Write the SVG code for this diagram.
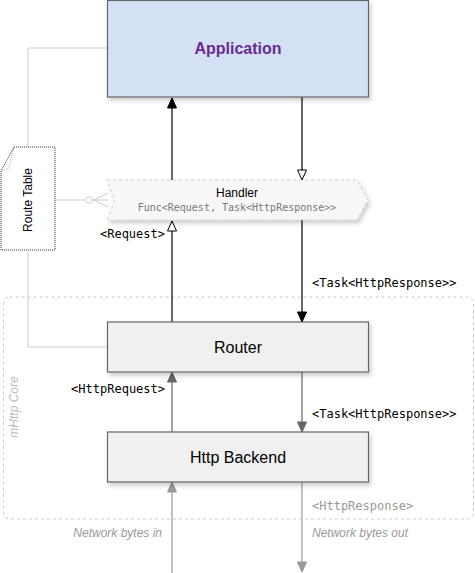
<svg xmlns="http://www.w3.org/2000/svg" width="475" height="573" viewBox="0 0 475 573">
<defs>
<filter id="sh" x="-10%" y="-10%" width="130%" height="140%"><feDropShadow dx="2" dy="3" stdDeviation="2" flood-color="#000" flood-opacity="0.2"/></filter>
<marker id="fillBlack" markerWidth="12" markerHeight="12" viewBox="0 0 12 12" refX="11" refY="6" orient="auto" markerUnits="userSpaceOnUse"><path d="M1,1.5 L11,6 L1,10.5 Z" fill="#000" stroke="#000"/></marker>
<marker id="openBlack" markerWidth="12" markerHeight="12" viewBox="0 0 12 12" refX="11" refY="6" orient="auto" markerUnits="userSpaceOnUse"><path d="M1,1.5 L11,6 L1,10.5 Z" fill="#fff" stroke="#000"/></marker>
<marker id="fillGray" markerWidth="12" markerHeight="12" viewBox="0 0 12 12" refX="11" refY="6" orient="auto" markerUnits="userSpaceOnUse"><path d="M1,1.5 L11,6 L1,10.5 Z" fill="#666" stroke="#666"/></marker>
<marker id="fillLight" markerWidth="12" markerHeight="12" viewBox="0 0 12 12" refX="11" refY="6" orient="auto" markerUnits="userSpaceOnUse"><path d="M1,1.5 L11,6 L1,10.5 Z" fill="#999" stroke="#999"/></marker>
</defs>
<style>
.box{fill:#f0f0f0;stroke:#666;stroke-width:1.2}
.title{font-family:"Liberation Sans",Arial,sans-serif;font-size:16px;fill:#000;text-anchor:middle}
.mono{font-family:"DejaVu Sans Mono",monospace;font-size:12px;fill:#000}
.ital{font-family:"Liberation Sans",Arial,sans-serif;font-size:12px;font-style:italic;fill:#999}
.thin{fill:none;stroke:#ccc;stroke-width:1}
.k{fill:none;stroke:#000;stroke-width:1.2}
.g{fill:none;stroke:#666;stroke-width:1.2}
.l{fill:none;stroke:#999;stroke-width:1.2}
</style>
<rect width="475" height="573" fill="#fff"/>
<g id="mhttp-core">
<rect x="3.5" y="297" width="470" height="222" rx="6" fill="none" stroke="#ccc" stroke-dasharray="3 3"/>
<text transform="translate(18,407) rotate(-90)" text-anchor="middle" class="ital" fill="#bbb" style="fill:#bbb">mHttp Core</text>
</g>
<g id="connectors">
<path class="thin" d="M107.5,48 H28 V147"/>
<path class="thin" d="M28,252 V347 H107.5"/>
<path class="thin" d="M55,200 H85.5"/>
<circle cx="89" cy="200" r="3.5" fill="#fff" stroke="#ccc"/>
<path class="thin" d="M92.5,200 H108 M94,200 L108,193 M94,200 L108,207"/>
<path class="k" d="M172,180 V98" marker-end="url(#fillBlack)"/>
<path class="k" d="M302,97 V180" marker-end="url(#openBlack)"/>
<path class="k" d="M172,322 V221" marker-end="url(#openBlack)"/>
<path class="k" d="M302,220 V322" marker-end="url(#fillBlack)"/>
<path class="g" d="M172,432 V372" marker-end="url(#fillGray)"/>
<path class="g" d="M302,372 V432" marker-end="url(#fillGray)"/>
<path class="l" d="M172,573 V482" marker-end="url(#fillLight)"/>
<path class="l" d="M302,482 V572" marker-end="url(#fillLight)"/>
<text class="mono" x="165" y="238" text-anchor="end">&lt;Request&gt;</text>
<text class="mono" x="312" y="287">&lt;Task&lt;HttpResponse&gt;&gt;</text>
<text class="mono" x="165" y="393" text-anchor="end">&lt;HttpRequest&gt;</text>
<text class="mono" x="312" y="418">&lt;Task&lt;HttpResponse&gt;&gt;</text>
<text class="mono" x="312" y="510" style="fill:#999">&lt;HttpResponse&gt;</text>
<text class="ital" x="162" y="537" text-anchor="end">Network bytes in</text>
<text class="ital" x="312" y="537">Network bytes out</text>
</g>
<g id="application">
<rect x="107.5" y="0.5" width="261" height="96.5" fill="#d4e1f5" stroke="#666" stroke-width="1.2" filter="url(#sh)"/>
<text x="238" y="54" class="title" style="font-weight:bold;fill:#6a2c91">Application</text>
</g>
<g id="handler">
<path d="M107,180 H357 L368,200 L357,220 H107 L115,200 Z" fill="#f8f8f8" stroke="#ccc" stroke-dasharray="3 3" filter="url(#sh)"/>
<text x="237" y="197" text-anchor="middle" style="font-family:'Liberation Sans',Arial,sans-serif;font-size:12px;fill:#000">Handler</text>
<text x="237" y="211" text-anchor="middle" style="font-family:'DejaVu Sans Mono',monospace;font-size:10px;fill:#777">Func&lt;Request, Task&lt;HttpResponse&gt;&gt;</text>
</g>
<g id="route-table">
<path d="M14,147 H55 V250 H1 V171 Z" fill="#fff" stroke="#333" stroke-dasharray="1 1"/>
<path d="M14,147 L9,168 L1,171" fill="none" stroke="#aaa" stroke-dasharray="1 1"/>
<text transform="translate(32,200) rotate(-90)" text-anchor="middle" style="font-family:'Liberation Sans',Arial,sans-serif;font-size:12px;fill:#000">Route Table</text>
</g>
<g id="router">
<rect class="box" x="107.5" y="322" width="261" height="50" filter="url(#sh)"/>
<text class="title" x="238" y="353">Router</text>
</g>
<g id="http-backend">
<rect class="box" x="107.5" y="432" width="261" height="50" filter="url(#sh)"/>
<text class="title" x="238" y="463">Http Backend</text>
</g>
</svg>
